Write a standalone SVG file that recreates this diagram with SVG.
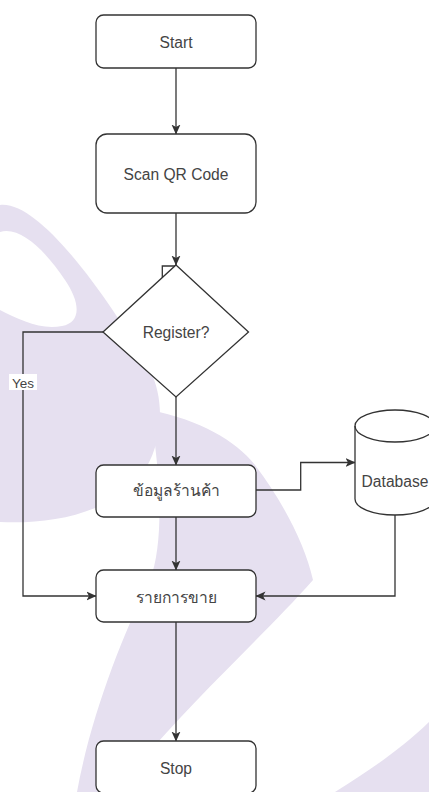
<svg xmlns="http://www.w3.org/2000/svg" width="429" height="792" viewBox="0 0 429 792">
  <defs>
    <style>
      .node { fill: #ffffff; stroke: #333333; stroke-width: 1.3; }
      .label { font-family: "Liberation Sans", Arial, "Noto Sans", sans-serif; font-size: 15.6px; fill: #444444; text-anchor: middle; }
      .edge { fill: none; stroke: #333333; stroke-width: 1.3; }
      .edge-label { font-family: "Liberation Sans", Arial, sans-serif; font-size: 13.5px; fill: #444444; text-anchor: middle; }
      .mark { fill: #e6e0f0; }
    </style>
    <marker id="arrow" viewBox="0 0 10 10" refX="9.5" refY="5" markerWidth="10" markerHeight="10" markerUnits="userSpaceOnUse" orient="auto">
      <path d="M0,0.5 L10,5 L0,9.5 L2.5,5 Z" fill="#333333"/>
    </marker>
  </defs>

  <rect width="429" height="792" fill="#ffffff"/>

  <!-- background watermark swooshes -->
  <g id="watermark">
    <path class="mark" fill-rule="evenodd" d="M0,205 C40,200 110,300 150,370 C170,410 160,470 120,495 C85,518 40,524 0,522 Z M0,232 C20,226 45,250 65,280 C80,302 82,322 62,326 C40,330 20,320 0,310 Z"/>
    <path class="mark" d="M150,410 C200,420 235,440 255,465 C285,505 305,545 313,580 C260,640 170,720 117,792 L77,792 C90,720 120,640 150,580 C165,540 160,470 150,410 Z"/>
    <path class="mark" d="M429,722 L429,792 L335,792 C370,770 400,750 429,722 Z"/>
  </g>

  <!-- connectors -->
  <g id="connectors">
    <path class="edge" d="M176,68 V134" marker-end="url(#arrow)"/>
    <path class="edge" d="M176,213 V265" marker-end="url(#arrow)"/>
    <path class="edge" d="M162.3,277.5 V266 H175"/>
    <path class="edge" d="M103,332 H23 V596 H96" marker-end="url(#arrow)"/>
    <rect x="9" y="374" width="28" height="16" fill="#ffffff"/>
    <text class="edge-label" x="23" y="387.5">Yes</text>
    <path class="edge" d="M176,397 V465" marker-end="url(#arrow)"/>
    <path class="edge" d="M256,490 H300.7 V462.5 H355" marker-end="url(#arrow)"/>
    <path class="edge" d="M176,517 V570" marker-end="url(#arrow)"/>
    <path class="edge" d="M395,515 V596 H256" marker-end="url(#arrow)"/>
    <path class="edge" d="M176,622 V741" marker-end="url(#arrow)"/>
  </g>

  <g id="start">
    <rect class="node" x="96" y="15" width="160" height="53" rx="7.5"/>
    <text class="label" x="176" y="47.5">Start</text>
  </g>

  <g id="scan">
    <rect class="node" x="96" y="134" width="160" height="79" rx="11"/>
    <text class="label" x="176" y="179.5">Scan QR Code</text>
  </g>

  <g id="register">
    <polygon class="node" points="176,265 248.5,332 176,397 103,332"/>
    <text class="label" x="176" y="338">Register?</text>
  </g>

  <g id="shop-info">
    <rect class="node" x="96" y="465" width="160" height="52" rx="7.5"/>
    <text class="label" x="176" y="496">ข้อมูลร้านค้า</text>
  </g>

  <g id="database">
    <path class="node" d="M355,426 A40,16 0 0 1 435,426 V499 A40,16 0 0 1 355,499 Z"/>
    <path class="edge" d="M355,426 A40,16 0 0 0 435,426"/>
    <text class="label" x="395" y="487">Database</text>
  </g>

  <g id="sales">
    <rect class="node" x="96" y="570" width="160" height="52" rx="7.5"/>
    <text class="label" x="176" y="603">รายการขาย</text>
  </g>

  <g id="stop">
    <rect class="node" x="96" y="741" width="160" height="52" rx="7.5"/>
    <text class="label" x="176" y="774">Stop</text>
  </g>
</svg>
